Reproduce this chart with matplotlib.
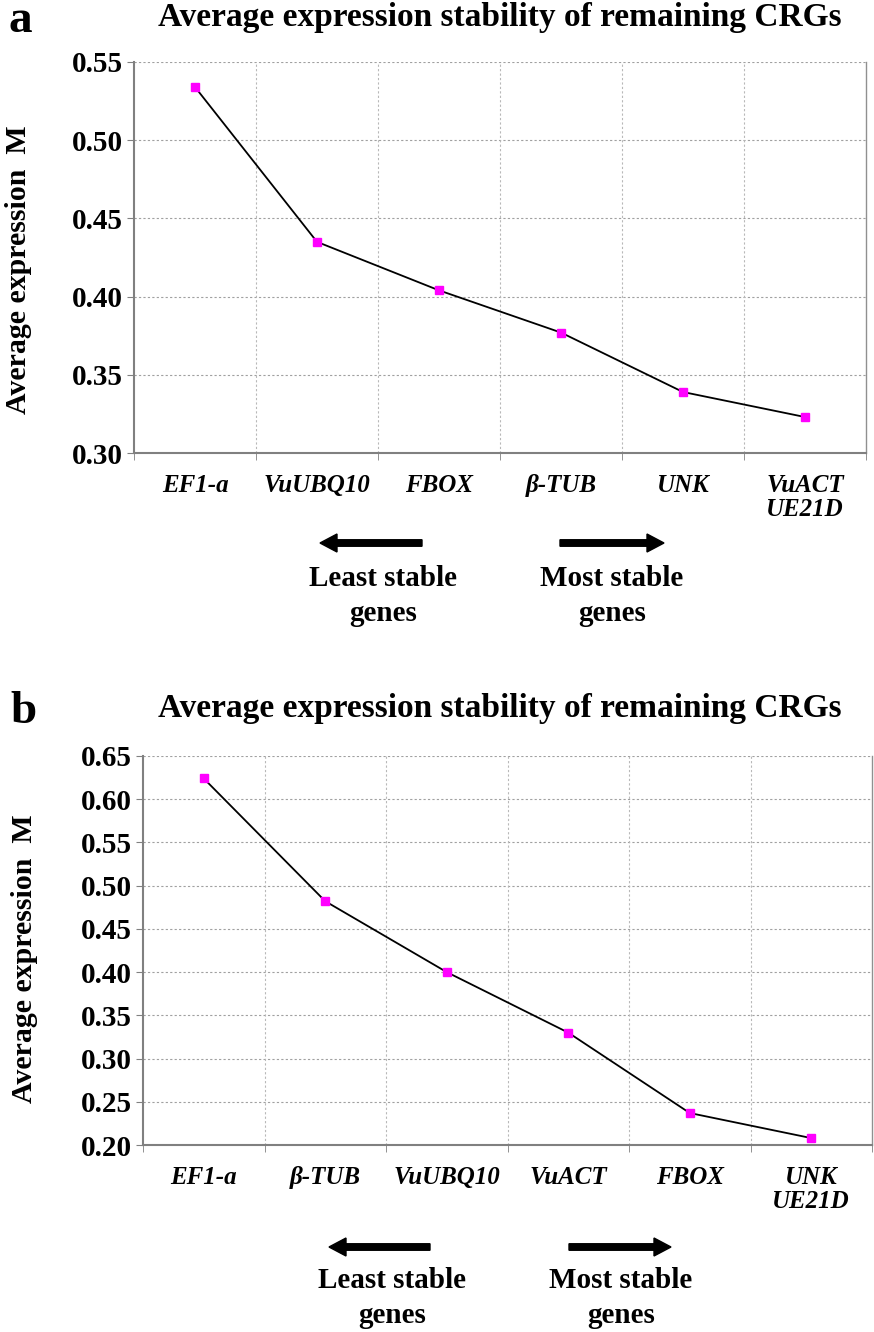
import matplotlib
matplotlib.use("Agg")
import matplotlib.pyplot as plt
from matplotlib.patches import FancyArrow

plt.rcParams['font.family'] = ['Liberation Serif', 'DejaVu Serif']

genes_a = ["EF1-a", "VuUBQ10", "FBOX", "β-TUB", "UNK", "VuACT\nUE21D"]
values_a = [0.534, 0.435, 0.404, 0.377, 0.339, 0.323]
yticks_a = [0.30, 0.35, 0.40, 0.45, 0.50, 0.55]

genes_b = ["EF1-a", "β-TUB", "VuUBQ10", "VuACT", "FBOX", "UNK\nUE21D"]
values_b = [0.624, 0.482, 0.400, 0.330, 0.237, 0.208]
yticks_b = [0.20, 0.25, 0.30, 0.35, 0.40, 0.45, 0.50, 0.55, 0.60, 0.65]

title = "Average expression stability of remaining CRGs"
ylabel = "Average expression  M"

W, H = 874, 1332
fig = plt.figure(figsize=(W / 100, H / 100), dpi=100)


def fx(x):
    return x / W


def fy(y):
    return 1 - y / H


def px_axes(l, t, r, b):
    return fig.add_axes([l / W, 1 - b / H, (r - l) / W, (b - t) / H])


def draw_panel(ax, genes, values, yticks, letter, letter_xy, title_y,
               ylab_xy, arrow_y, text_y, larrow, rarrow, ltext_x, rtext_x):
    n = len(genes)
    x = list(range(n))
    ax.plot(x, values, color='black', lw=1.3, zorder=3)
    ax.plot(x, values, ls='none', marker='s', ms=6, mfc='#ff00ff',
            mec='#ff00ff', zorder=4)
    ax.set_xlim(-0.5, n - 0.5)
    ax.set_ylim(yticks[0], yticks[-1])
    ax.set_yticks(yticks)
    ax.set_yticklabels([f"{v:.2f}" for v in yticks], fontsize=21,
                       fontweight='bold')
    ax.set_xticks(x)
    ax.set_xticklabels(genes, fontsize=18, fontweight='bold',
                       fontstyle='italic', va='top', linespacing=1.05)
    ax.set_xticks([i + 0.5 for i in range(-1, n)], minor=True)
    ax.tick_params(axis='x', which='major', length=0, pad=15)
    ax.tick_params(axis='x', which='minor', length=5, color='#808080',
                   direction='out')
    ax.tick_params(axis='y', length=5, color='#808080', pad=3)
    ax.grid(False)
    for v in yticks[1:]:
        ax.axhline(v, color='#a0a0a0', lw=0.8, ls=(0, (2, 2)), zorder=1)
    for b in [i + 0.5 for i in range(n - 1)]:
        ax.axvline(b, color='#b8b8b8', lw=0.8, ls=(0, (2, 2)), zorder=1)
    for s in ['left', 'bottom']:
        ax.spines[s].set_color('#808080')
        ax.spines[s].set_linewidth(1.5)
    ax.spines['right'].set_color('#909090')
    ax.spines['right'].set_linewidth(1.0)
    ax.spines['top'].set_visible(False)

    fig.text(fx(ylab_xy[0]), fy(ylab_xy[1]), ylabel, fontsize=21.5,
             fontweight='bold', rotation=90, ha='center', va='center')
    fig.text(fx(letter_xy[0]), fy(letter_xy[1]), letter, fontsize=34,
             fontweight='bold', va='baseline', ha='left')
    fig.text(fx(500), fy(title_y), title, fontsize=24,
             fontweight='bold', va='baseline', ha='center')

    for (x0, x1) in (larrow, rarrow):
        dx = x1 - x0
        fig.patches.append(FancyArrow(
            fx(x0), fy(arrow_y), dx / W, 0, width=6.5 / H,
            head_width=18 / H, head_length=17 / W,
            length_includes_head=True, color='black',
            transform=fig.transFigure, figure=fig))
    for tx, txt in ((ltext_x, "Least stable\ngenes"),
                    (rtext_x, "Most stable\ngenes")):
        fig.text(fx(tx), fy(text_y), txt, fontsize=21,
                 fontweight='bold', ha='center', va='top',
                 linespacing=1.4)


ax_a = px_axes(134, 62, 866, 453)
draw_panel(ax_a, genes_a, values_a, yticks_a, "a", (8, 32), 26,
           (19, 270), 543, 565, (422, 320), (560, 664), 383, 612)

ax_b = px_axes(143, 756, 872, 1145)
draw_panel(ax_b, genes_b, values_b, yticks_b, "b", (10, 723), 717,
           (25, 959), 1247, 1267, (430, 329), (569, 671), 392, 621)

fig.savefig("out.png", dpi=100)
